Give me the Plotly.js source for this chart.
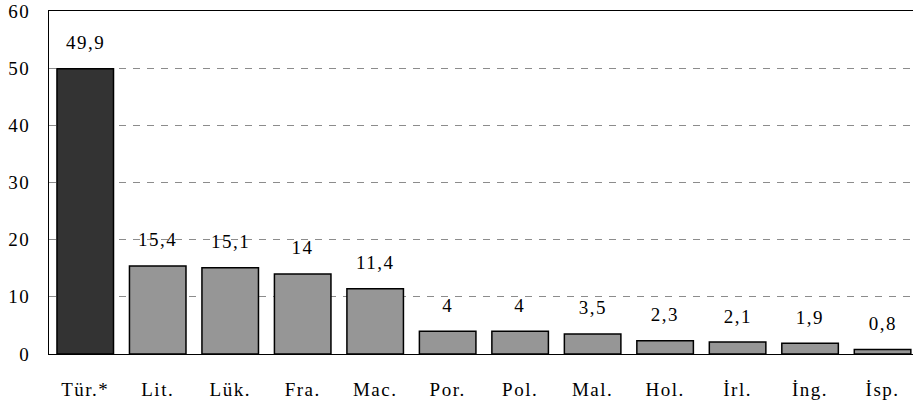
<!DOCTYPE html>
<html><head><meta charset="utf-8">
<script src="https://cdn.plot.ly/plotly-3.0.1.min.js"></script>
<style>html,body{margin:0;padding:0;background:#fff}
#chart svg text{letter-spacing:1.5px}</style>
</head><body>
<div id="chart" style="width:913px;height:405px"></div>
<script>
const categories = ["Tür.*","Lit.","Lük.","Fra.","Mac.","Por.","Pol.","Mal.","Hol.","İrl.","İng.","İsp."];
const values = [49.9,15.4,15.1,14,11.4,4,4,3.5,2.3,2.1,1.9,0.8];
const yTicks = [0,10,20,30,40,50,60];

const colors = categories.map((c,i)=> i===0 ? "#333333" : "#969696");
const font = {family:"Liberation Serif, Times New Roman, serif", size:19, color:"#000"};

const trace = {
  type:"bar", x:categories, y:values,
  marker:{color:colors, line:{color:"#000", width:1.5}},
  hoverinfo:"none"
};
const annotations = categories.map((c,i)=>({
  x:c, y:values[i], xref:"x", yref:"y",
  text:String(values[i]).replace(".",","),
  showarrow:false, yanchor:"middle", yshift:26, font:font
}));
const layout = {
  width:913, height:405,
  margin:{l:49, r:0, t:11, b:51},
  paper_bgcolor:"#fff", plot_bgcolor:"#fff",
  showlegend:false, bargap:0.22,
  font:font,
  xaxis:{type:"category", range:[-0.5,11.42], showline:true, mirror:true, linecolor:"#000", linewidth:1,
         ticks:"", showgrid:false, tickfont:font, ticklabelstandoff:18, fixedrange:true},
  yaxis:{range:[0,60], tickvals:yTicks, ticktext:yTicks.map(String), showline:true, linecolor:"#000", linewidth:1,
         ticks:"", showgrid:true, gridcolor:"#8c8c8c", griddash:"7px,7px", gridwidth:1, zeroline:false,
         tickfont:font, ticklabelstandoff:14, fixedrange:true},
  annotations:annotations
};
Plotly.newPlot("chart",[trace],layout,{displayModeBar:false, staticPlot:true});
</script>
</body></html>
